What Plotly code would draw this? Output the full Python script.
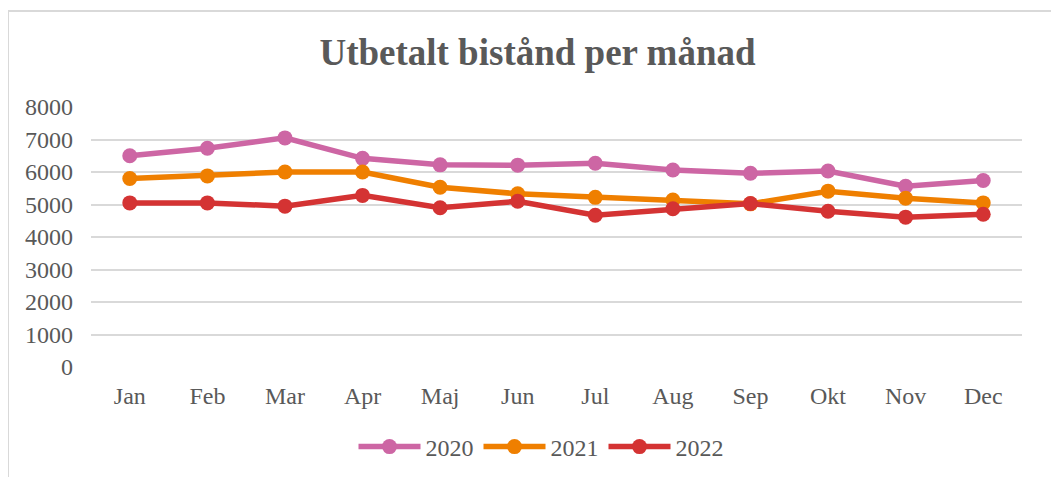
import plotly.graph_objects as go

months = ["Jan", "Feb", "Mar", "Apr", "Maj", "Jun", "Jul", "Aug", "Sep", "Okt", "Nov", "Dec"]
v2020 = [6500, 6730, 7050, 6420, 6220, 6210, 6270, 6060, 5960, 6030, 5560, 5740]
v2021 = [5800, 5880, 6000, 6000, 5530, 5330, 5220, 5140, 5020, 5410, 5190, 5050]
v2022 = [5050, 5050, 4950, 5280, 4900, 5100, 4670, 4870, 5030, 4790, 4610, 4700]
series = [("2020", v2020, "#CD66A4"), ("2021", v2021, "#EF7F00"), ("2022", v2022, "#D43333")]

FONT = "Liberation Serif"
GRAY = "#595959"

# plot area in figure pixels
L, R, T, B = 83, 45, 99, 118
W, H = 1059, 477
PW, PH = W - L - R, H - T - B

fig = go.Figure()
for name, vals, col in series:
    fig.add_trace(go.Scatter(
        x=months, y=vals, name=name, mode="lines+markers",
        line=dict(color=col, width=5.5),
        marker=dict(color=col, size=15),
    ))

def px_x(p):
    return (p - L) / PW

def px_y(p):
    return (H - B - p) / PH

fig.update_layout(
    width=W, height=H,
    margin=dict(l=L, r=R, t=T, b=B),
    paper_bgcolor="white", plot_bgcolor="white",
    font=dict(family=FONT, color=GRAY, size=24),
    title=dict(text="<b>Utbetalt bistånd per månad</b>", x=0.5,
               xanchor="center", y=1 - 44 / H, yanchor="middle",
               font=dict(size=37, color=GRAY, family=FONT)),
    showlegend=True,
    legend=dict(orientation="h", x=0.5 - 15.5 / PW, xanchor="center", y=px_y(439), yanchor="middle",
                font=dict(size=24, color=GRAY, family=FONT), itemwidth=62,
                traceorder="normal"),
    xaxis=dict(type="category", range=[-0.5, 11.5], showgrid=False, showline=False,
               zeroline=False, ticks="", ticklabelstandoff=12,
               tickfont=dict(size=24, color=GRAY, family=FONT)),
    yaxis=dict(range=[0, 8000], dtick=1000, showgrid=True, gridcolor="#D9D9D9",
               gridwidth=1.5, zeroline=False, showline=False, ticks="",
               ticklabelstandoff=17, tickfont=dict(size=24, color=GRAY, family=FONT)),
    shapes=[
        dict(type="line", xref="paper", yref="paper", x0=px_x(0), x1=px_x(W + 20),
             y0=px_y(3), y1=px_y(3), line=dict(color="#D9D9D9", width=2)),
        dict(type="line", xref="paper", yref="paper", x0=px_x(0), x1=px_x(0),
             y0=px_y(3), y1=px_y(H + 20), line=dict(color="#D9D9D9", width=2)),
    ],
)

fig.write_html("out.html")
